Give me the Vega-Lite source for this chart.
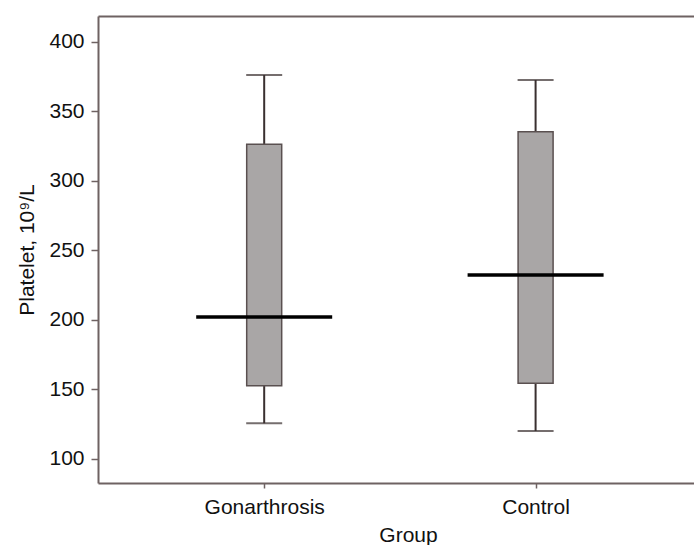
{
  "$schema": "https://vega.github.io/schema/vega-lite/v6.json",
  "autosize": {"type": "none"},
  "padding": {"left": 98, "top": 16, "right": 0, "bottom": 62},
  "width": 596,
  "height": 467,
  "background": "white",
  "config": {
    "view": {"stroke": null},
    "font": "Liberation Sans",
    "axis": {
      "labelFont": "Liberation Sans",
      "titleFont": "Liberation Sans",
      "labelFontSize": 21,
      "titleFontSize": 21,
      "labelColor": "#111111",
      "titleColor": "#111111",
      "titleFontWeight": "normal",
      "domainColor": "#6e6262",
      "domainWidth": 2,
      "tickColor": "#6e6262",
      "tickWidth": 1.5,
      "grid": false
    }
  },
  "data": {
    "values": [
      {"group": "Gonarthrosis", "min": 125.7, "q1": 152.7, "mean": 202.2, "q3": 326.4, "max": 376.3},
      {"group": "Control", "min": 120.1, "q1": 154.5, "mean": 232.4, "q3": 335.5, "max": 372.7}
    ]
  },
  "resolve": {"axis": {"x": "independent"}},
  "layer": [
    {
      "mark": {"type": "rule", "color": "#3a3030", "strokeWidth": 2},
      "encoding": {
        "x": {
          "field": "group", "type": "nominal", "sort": ["Gonarthrosis", "Control"],
          "scale": {"type": "point", "padding": 0.598, "align": 0.512},
          "axis": {"orient": "bottom", "title": "Group", "labelAngle": 0, "tickSize": 5, "labelPadding": 8, "titlePadding": 7, "titleX": 310}
        },
        "y": {
          "field": "min", "type": "quantitative",
          "scale": {"domain": [82.7, 418.7], "nice": false, "zero": false},
          "axis": {"title": "Platelet, 10⁹/L", "values": [100, 150, 200, 250, 300, 350, 400], "tickSize": 7, "labelPadding": 7, "titlePadding": 11}
        },
        "y2": {"field": "max"}
      }
    },
    {
      "mark": {"type": "tick", "color": "#3a3030", "thickness": 2, "size": 36},
      "encoding": {
        "x": {
          "field": "group", "type": "nominal", "sort": ["Gonarthrosis", "Control"],
          "axis": {"orient": "top", "title": null, "labels": false, "ticks": false}
        },
        "y": {"field": "min", "type": "quantitative"}
      }
    },
    {
      "mark": {"type": "tick", "color": "#3a3030", "thickness": 2, "size": 36},
      "encoding": {
        "x": {"field": "group", "type": "nominal", "sort": ["Gonarthrosis", "Control"], "axis": null},
        "y": {"field": "max", "type": "quantitative"}
      }
    },
    {
      "mark": {"type": "bar", "size": 35, "fill": "#a9a6a6", "stroke": "#5a5050", "strokeWidth": 1.5},
      "encoding": {
        "x": {"field": "group", "type": "nominal", "sort": ["Gonarthrosis", "Control"], "axis": null},
        "y": {"field": "q1", "type": "quantitative"},
        "y2": {"field": "q3"}
      }
    },
    {
      "mark": {"type": "tick", "color": "#000000", "thickness": 3.5, "size": 136, "opacity": 1},
      "encoding": {
        "x": {"field": "group", "type": "nominal", "sort": ["Gonarthrosis", "Control"], "axis": null},
        "y": {"field": "mean", "type": "quantitative"}
      }
    }
  ]
}
